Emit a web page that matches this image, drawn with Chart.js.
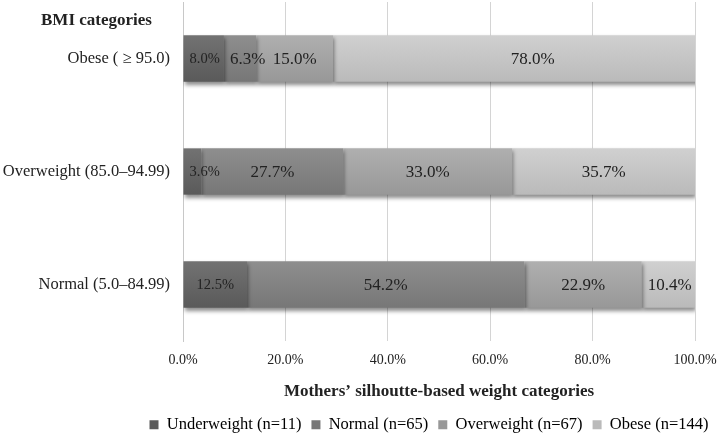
<!DOCTYPE html>
<html>
<head>
<meta charset="utf-8">
<script src="https://cdn.jsdelivr.net/npm/chart.js@4"></script>
<style>
  html, body { margin: 0; padding: 0; background: #fff; }
  #wrap { width: 718px; height: 435px; }
</style>
</head>
<body>
<div id="wrap"><canvas id="bmiChart"></canvas></div>
<script>
const categories = ['Obese ( \u2265 95.0)', 'Overweight (85.0\u201394.99)', 'Normal (5.0\u201384.99)'];
const seriesNames = ['Underweight (n=11)', 'Normal (n=65)', 'Overweight (n=67)', 'Obese (n=144)'];
const underweight = [8.0, 3.6, 12.5];
const normal = [6.3, 27.7, 54.2];
const overweight = [15.0, 33.0, 22.9];
const obese = [78.0, 35.7, 10.4];
const xTickStep = 20;

const serif = "'Liberation Serif', 'Times New Roman', serif";
const textColor = '#222';
// top / bottom shade of every series
const shades = [
    ['#727272', '#5a5a5a'],
    ['#8e8e8e', '#777777'],
    ['#afafaf', '#989898'],
    ['#d0d0d0', '#bababa']
];

function barFill(i) {
    return ctx => {
        const chart = ctx.chart;
        const y = chart.scales && chart.scales.y;
        if (!chart.chartArea || !y || ctx.type !== 'data') return shades[i][1];
        const mid = y.getPixelForValue(ctx.dataIndex);
        const g = chart.ctx.createLinearGradient(0, mid - 23, 0, mid + 23);
        g.addColorStop(0, shades[i][0]);
        g.addColorStop(1, shades[i][1]);
        return g;
    };
}

// soft shadow under the bars
const barShadow = {
    id: 'barShadow',
    beforeDatasetsDraw(chart) {
        const c = chart.ctx;
        c.save();
        c.shadowColor = 'rgba(0,0,0,0.45)';
        c.shadowBlur = 4;
        c.shadowOffsetX = 1;
        c.shadowOffsetY = 3;
    },
    afterDatasetsDraw(chart) {
        chart.ctx.restore();
    }
};

// percent labels in the middle of each segment
const segmentLabels = {
    id: 'segmentLabels',
    afterDatasetsDraw(chart) {
        const c = chart.ctx;
        c.save();
        c.fillStyle = textColor;
        c.textAlign = 'center';
        c.textBaseline = 'middle';
        chart.data.datasets.forEach((ds, di) => {
            c.font = (di === 0 ? '14.5px ' : '17px ') + serif;
            chart.getDatasetMeta(di).data.forEach((bar, i) => {
                const txt = ds.data[i].toFixed(1) + '%';
                const w = c.measureText(txt).width;
                // keep small labels from sticking out on the left
                const cx = Math.max((bar.x + bar.base) / 2, bar.base + w / 2 + 6);
                c.fillText(txt, cx, bar.y + 1);
            });
        });
        c.restore();
    }
};

// "BMI categories" heading over the category labels
const cornerTitle = {
    id: 'cornerTitle',
    afterDraw(chart) {
        const c = chart.ctx;
        c.save();
        c.font = 'bold 17px ' + serif;
        c.fillStyle = textColor;
        c.textAlign = 'left';
        c.textBaseline = 'middle';
        c.fillText('BMI categories', 41, 21);
        c.restore();
    }
};

// legend sits under the plot, not under the whole canvas
const legendNudge = {
    id: 'legendNudge',
    afterLayout(chart) {
        const lg = chart.legend;
        lg.left += 70; lg.right += 70;
        lg.top += 8; lg.bottom += 8;
    }
};

const seriesValues = [underweight, normal, overweight, obese];

new Chart(document.getElementById('bmiChart'), {
    type: 'bar',
    data: {
        labels: categories,
        datasets: seriesNames.map((name, i) => ({
            label: name,
            data: seriesValues[i],
            backgroundColor: barFill(i),
            borderWidth: 0,
            barPercentage: 0.41,
            categoryPercentage: 1
        }))
    },
    options: {
        indexAxis: 'y',
        responsive: true,
        maintainAspectRatio: false,
        animation: false,
        layout: { padding: { top: 2, left: 0, right: 0, bottom: 0 } },
        scales: {
            x: {
                stacked: true,
                min: 0,
                max: 100,
                grid: { color: '#d4d4d4', lineWidth: 1, drawTicks: false },
                border: { display: false },
                ticks: {
                    stepSize: xTickStep,
                    padding: 11,
                    color: textColor,
                    font: { family: serif, size: 14 },
                    callback: v => v.toFixed(1) + '%'
                },
                title: {
                    display: true,
                    text: 'Mothers\u2019 silhoutte-based weight categories',
                    color: textColor,
                    font: { family: serif, size: 17, weight: 'bold' },
                    padding: { top: 6, bottom: -3 }
                },
                afterFit(scale) {
                    scale.paddingRight = 23;
                    scale.height = 57.5;
                }
            },
            y: {
                stacked: true,
                grid: { display: false, drawTicks: false },
                border: { display: true, color: '#c8c8c8' },
                ticks: {
                    padding: 13,
                    color: textColor,
                    font: { family: serif, size: 16.5 }
                },
                afterFit(scale) {
                    scale.width = 183;
                    scale.paddingTop = 0;
                    scale.paddingBottom = 0;
                }
            }
        },
        plugins: {
            legend: {
                position: 'bottom',
                labels: {
                    boxWidth: 9,
                    boxHeight: 9,
                    padding: 10,
                    color: textColor,
                    font: { family: serif, size: 16.5 },
                    generateLabels: chart => chart.data.datasets.map((ds, i) => ({
                        text: ds.label,
                        fillStyle: shades[i][1],
                        strokeStyle: shades[i][1],
                        lineWidth: 0,
                        hidden: false,
                        datasetIndex: i
                    }))
                }
            },
            tooltip: { enabled: false }
        }
    },
    plugins: [barShadow, segmentLabels, cornerTitle, legendNudge]
});
</script>
</body>
</html>
